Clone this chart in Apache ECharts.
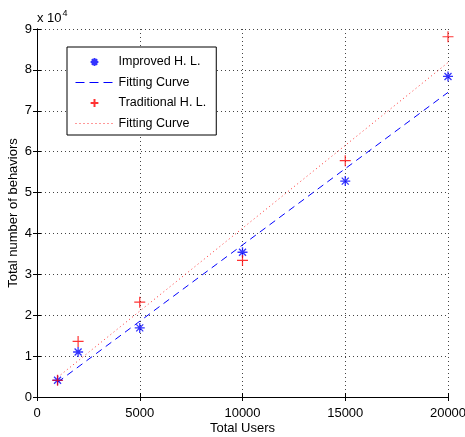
<!DOCTYPE html>
<html>
<head>
<meta charset="utf-8">
<script src="https://cdn.jsdelivr.net/npm/echarts@6/dist/echarts.min.js"></script>
<style>
  html, body { margin: 0; padding: 0; background: #fff; }
  #chart { width: 465px; height: 437px; }
</style>
</head>
<body>
<div id="chart"></div>
<script>
// values in units of 10^4 behaviors
const users = [1000, 2000, 5000, 10000, 15000, 20000]
const improved = [0.41, 1.10, 1.69, 3.54, 5.28, 7.84]
const traditional = [0.41, 1.36, 2.32, 3.34, 5.78, 8.81]

// fitted lines, read at both ends
const fitUsers = [1000, 20000]
const improvedFit = [0.36, 7.45]
const traditionalFit = [0.48, 8.18]

const xTicks = [0, 5000, 10000, 15000, 20000]
const yTicks = [0, 1, 2, 3, 4, 5, 6, 7, 8, 9]

const font = '"Liberation Sans", Arial, sans-serif'
const star = 'path://M5,0L5,10M0,5L10,5M1.5,1.5L8.5,8.5M1.5,8.5L8.5,1.5'
const plus = 'path://M5,0L5,10M0,5L10,5'
// same glyphs with empty margin so the legend draws them smaller
const starIcon = 'path://M-4,-4M14,14M5,0L5,10M0,5L10,5M1.5,1.5L8.5,8.5M1.5,8.5L8.5,1.5'
const plusIcon = 'path://M-4,-4M14,14M5,0L5,10M0,5L10,5'

const pairs = (xs, ys) => xs.map((x, i) => [x, ys[i]])

const chart = echarts.init(document.getElementById('chart'))

const gridLine = { show: true, lineStyle: { color: '#444', width: 1, type: [1, 3] } }
const boxAxis = { show: true, lineStyle: { color: '#000', width: 1 } }
const noMarker = { color: 'rgba(0,0,0,0)', borderWidth: 0 }

chart.setOption({
  animation: false,
  textStyle: { fontFamily: font },
  grid: { left: 37, right: 17, top: 29, bottom: 40, containLabel: false, outerBoundsMode: 'none' },
  graphic: [{
    type: 'text', left: 37, top: 9,
    style: {
      text: '{a|x 10}{b|4}',
      rich: {
        a: { fontSize: 13, fontFamily: font, fill: '#000', verticalAlign: 'bottom', lineHeight: 16 },
        b: { fontSize: 9, fontFamily: font, fill: '#000', verticalAlign: 'top', lineHeight: 16, padding: [0, 0, 8, 1] }
      }
    }
  }],
  xAxis: [{
    type: 'value', min: 0, max: 20000, interval: 5000,
    name: 'Total Users', nameLocation: 'middle', nameGap: 25, nameMoveOverlap: false,
    nameTextStyle: { fontSize: 13, color: '#000', fontFamily: font },
    axisLine: boxAxis,
    axisTick: { inside: true, length: 4, lineStyle: { color: '#000' } },
    axisLabel: { fontSize: 13, color: '#000', margin: 10, fontFamily: font,
      formatter: v => xTicks.includes(v) ? String(v) : '' },
    splitLine: gridLine
  }, {
    type: 'value', position: 'top', min: 0, max: 20000, interval: 5000,
    axisLine: boxAxis,
    axisTick: { inside: true, length: 4, lineStyle: { color: '#000' } },
    axisLabel: { show: false }, splitLine: { show: false }
  }],
  yAxis: [{
    type: 'value', min: 0, max: 9, interval: 1,
    name: 'Total number of behaviors', nameLocation: 'middle', nameGap: 17, nameMoveOverlap: false,
    nameTextStyle: { fontSize: 13, color: '#000', fontFamily: font },
    axisLine: boxAxis,
    axisTick: { inside: true, length: 4, lineStyle: { color: '#000' } },
    axisLabel: { fontSize: 13, color: '#000', margin: 5, fontFamily: font,
      formatter: v => yTicks.includes(v) ? String(v) : '' },
    splitLine: gridLine
  }, {
    type: 'value', position: 'right', min: 0, max: 9, interval: 1,
    axisLine: boxAxis,
    axisTick: { inside: true, length: 4, lineStyle: { color: '#000' } },
    axisLabel: { show: false }, splitLine: { show: false }
  }],
  legend: {
    orient: 'vertical', left: 67, top: 47,
    padding: [7, 10, 5, 8], itemGap: 6, itemWidth: 38, itemHeight: 14,
    backgroundColor: '#fff', borderColor: '#000', borderWidth: 1,
    lineStyle: { width: 1 },
    textStyle: { fontSize: 12.5, color: '#000', fontFamily: font },
    formatter: n => n.trim(),
    data: [
      { name: 'Improved H. L.', icon: starIcon },
      { name: 'Fitting Curve', itemStyle: noMarker, lineStyle: { type: [9, 5] } },
      { name: 'Traditional H. L.', icon: plusIcon },
      { name: 'Fitting Curve ', itemStyle: noMarker, lineStyle: { type: [1, 3] } }
    ]
  },
  series: [{
    name: 'Improved H. L.', type: 'scatter', z: 4,
    symbol: star, symbolSize: 10,
    itemStyle: { color: '#0000ff', borderColor: '#0000ff', borderWidth: 1.3 },
    data: pairs(users, improved)
  }, {
    name: 'Fitting Curve', type: 'line', z: 2,
    symbol: 'none', showSymbol: false,
    lineStyle: { color: '#0000ff', width: 1, type: [7, 5] },
    itemStyle: noMarker,
    data: pairs(fitUsers, improvedFit)
  }, {
    name: 'Traditional H. L.', type: 'scatter', z: 5,
    symbol: plus, symbolSize: 11,
    itemStyle: { color: '#ff0000', borderColor: '#ff0000', borderWidth: 1.2 },
    data: pairs(users, traditional)
  }, {
    name: 'Fitting Curve ', type: 'line', z: 2,
    symbol: 'none', showSymbol: false,
    lineStyle: { color: '#ff3030', width: 1, type: [1, 3] },
    itemStyle: noMarker,
    data: pairs(fitUsers, traditionalFit)
  }]
})
</script>
</body>
</html>
